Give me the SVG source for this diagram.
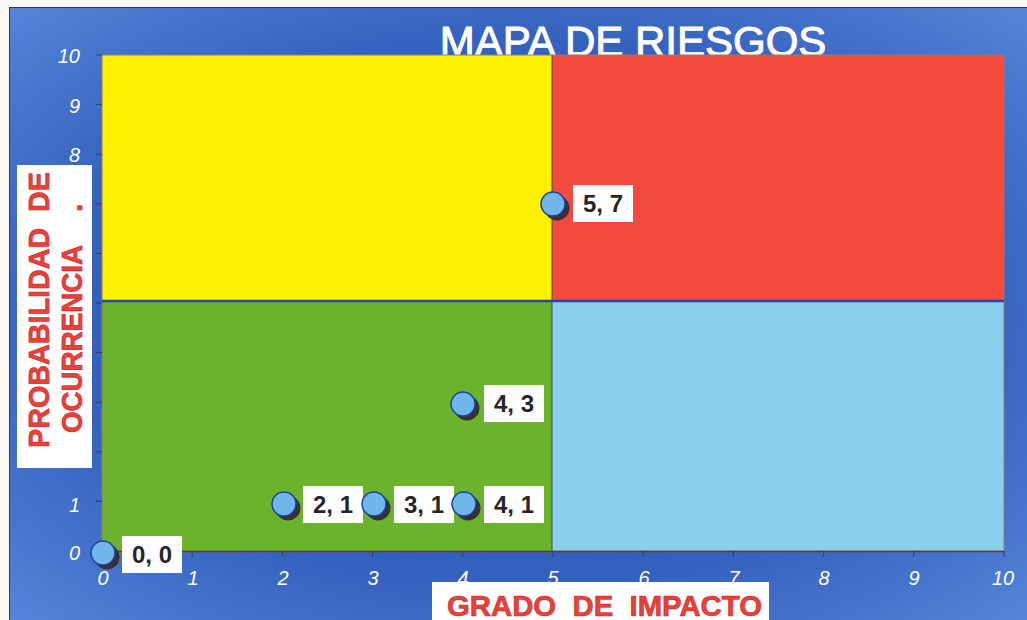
<svg xmlns="http://www.w3.org/2000/svg" width="1027" height="620" viewBox="0 0 1027 620">
  <defs>
    <radialGradient id="bg" cx="0.5" cy="0.5" r="0.75">
      <stop offset="0" stop-color="#2a55ad"/>
      <stop offset="0.6" stop-color="#3562be"/>
      <stop offset="1" stop-color="#5a8ade"/>
    </radialGradient>
    <style>
      .tick { font-family: "Liberation Sans", Arial, sans-serif; font-style: italic; font-size: 20px; fill: #ffffff; }
      .ylab { text-anchor: end; }
      .xlab { text-anchor: middle; }
      .axtitle { font-family: "Liberation Sans", Arial, sans-serif; font-weight: bold; font-size: 30px; fill: #ec4038; stroke: #c0282a; stroke-width: 0.6; white-space: pre; }
      .box { fill: #ffffff; }
      .pt-shadow { fill: #3a3030; }
      .pt { fill: #6fb7e8; stroke: #1d3fa6; stroke-width: 1.5; }
      .pt-label { font-family: "Liberation Sans", Arial, sans-serif; font-weight: bold; font-size: 24px; fill: #262626; text-anchor: middle; }
      .tickmark { stroke: #3a3a5a; stroke-width: 1; }
    </style>
  </defs>

  <!-- page -->
  <rect x="0" y="0" width="1027" height="620" fill="#fbfaf6"/>
  <rect x="9" y="7" width="1018" height="613" fill="url(#bg)"/>
  <line x1="9" y1="7.5" x2="1027" y2="7.5" stroke="#2a3a6a" stroke-width="1"/>
  <line x1="9.5" y1="7" x2="9.5" y2="620" stroke="#2a3a6a" stroke-width="1"/>

  <!-- title -->
  <g id="title">
    <text x="633" y="56" font-family="'Liberation Sans', Arial, sans-serif" font-size="42" fill="#ffffff" stroke="#ffffff" stroke-width="1" text-anchor="middle">MAPA DE RIESGOS</text>
  </g>

  <!-- plot quadrants -->
  <g id="plot">
    <rect x="102" y="55" width="450" height="246" fill="#fff200"/>
    <rect x="552" y="55" width="452" height="246" fill="#f54a3e"/>
    <rect x="102" y="301" width="450" height="250" fill="#69b42b"/>
    <rect x="552" y="301" width="452" height="250" fill="#88d0ec"/>
    <rect x="102" y="55" width="902" height="496" fill="none" stroke="#8a7f70" stroke-width="1"/>
    <line x1="102" y1="301" x2="1004" y2="301" stroke="#1f4aa8" stroke-width="2.5"/>
    <line x1="552" y1="55" x2="552" y2="551" stroke="#3a4a7a" stroke-width="1"/>
    <line x1="102" y1="551.5" x2="1004" y2="551.5" stroke="#6a3a2a" stroke-width="1.5"/>
  </g>

  <!-- axis ticks -->
  <g id="ticks">
    <line class="tickmark" x1="96" y1="55" x2="102" y2="55"/>
    <line class="tickmark" x1="96" y1="104.6" x2="102" y2="104.6"/>
    <line class="tickmark" x1="96" y1="154.2" x2="102" y2="154.2"/>
    <line class="tickmark" x1="96" y1="203.8" x2="102" y2="203.8"/>
    <line class="tickmark" x1="96" y1="253.4" x2="102" y2="253.4"/>
    <line class="tickmark" x1="96" y1="303" x2="102" y2="303"/>
    <line class="tickmark" x1="96" y1="352.6" x2="102" y2="352.6"/>
    <line class="tickmark" x1="96" y1="402.2" x2="102" y2="402.2"/>
    <line class="tickmark" x1="96" y1="451.8" x2="102" y2="451.8"/>
    <line class="tickmark" x1="96" y1="501.4" x2="102" y2="501.4"/>
    <line class="tickmark" x1="96" y1="551" x2="102" y2="551"/>
    <line class="tickmark" x1="102" y1="551" x2="102" y2="557"/>
    <line class="tickmark" x1="192.2" y1="551" x2="192.2" y2="557"/>
    <line class="tickmark" x1="282.4" y1="551" x2="282.4" y2="557"/>
    <line class="tickmark" x1="372.6" y1="551" x2="372.6" y2="557"/>
    <line class="tickmark" x1="462.8" y1="551" x2="462.8" y2="557"/>
    <line class="tickmark" x1="553" y1="551" x2="553" y2="557"/>
    <line class="tickmark" x1="643.2" y1="551" x2="643.2" y2="557"/>
    <line class="tickmark" x1="733.4" y1="551" x2="733.4" y2="557"/>
    <line class="tickmark" x1="823.6" y1="551" x2="823.6" y2="557"/>
    <line class="tickmark" x1="913.8" y1="551" x2="913.8" y2="557"/>
    <line class="tickmark" x1="1004" y1="551" x2="1004" y2="557"/>
  </g>

  <!-- tick labels -->
  <g id="y-tick-labels" class="tick ylab">
    <text x="80" y="63">10</text>
    <text x="80" y="113">9</text>
    <text x="80" y="162">8</text>
    <text x="80" y="512">1</text>
    <text x="80" y="560">0</text>
  </g>
  <g id="x-tick-labels" class="tick xlab">
    <text x="103" y="585">0</text>
    <text x="193" y="585">1</text>
    <text x="283" y="585">2</text>
    <text x="373" y="585">3</text>
    <text x="463" y="585">4</text>
    <text x="553" y="585">5</text>
    <text x="644" y="585">6</text>
    <text x="734" y="585">7</text>
    <text x="824" y="585">8</text>
    <text x="914" y="585">9</text>
    <text x="1003" y="585">10</text>
  </g>

  <!-- axis titles -->
  <g id="y-axis-title">
    <rect class="box" x="17" y="165" width="75" height="303"/>
    <text class="axtitle" transform="translate(49,448) rotate(-90)" textLength="276" lengthAdjust="spacingAndGlyphs">PROBABILIDAD  DE</text>
    <text class="axtitle" transform="translate(82,433) rotate(-90)" textLength="188" lengthAdjust="spacingAndGlyphs">OCURRENCIA</text>
    <text class="axtitle" transform="translate(82,212) rotate(-90)">.</text>
  </g>
  <g id="x-axis-title">
    <rect class="box" x="432" y="582" width="337" height="38"/>
    <text class="axtitle" x="447" y="616" font-size="29" style="font-size:29px" textLength="315" lengthAdjust="spacingAndGlyphs">GRADO  DE  IMPACTO</text>
  </g>

  <!-- data points -->
  <g id="pt-5-7">
    <circle class="pt-shadow" cx="557" cy="208" r="12.5"/>
    <circle class="pt" cx="553" cy="204" r="12"/>
    <rect class="box" x="573" y="185" width="60" height="37"/>
    <text class="pt-label" x="603" y="212">5, 7</text>
  </g>
  <g id="pt-4-3">
    <circle class="pt-shadow" cx="467" cy="408" r="12.5"/>
    <circle class="pt" cx="463" cy="404" r="12"/>
    <rect class="box" x="484" y="385" width="60" height="37"/>
    <text class="pt-label" x="514" y="412">4, 3</text>
  </g>
  <g id="pt-2-1">
    <circle class="pt-shadow" cx="288" cy="508" r="12.5"/>
    <circle class="pt" cx="284" cy="504" r="12"/>
    <rect class="box" x="303" y="486" width="60" height="37"/>
    <text class="pt-label" x="333" y="513">2, 1</text>
  </g>
  <g id="pt-3-1">
    <circle class="pt-shadow" cx="378" cy="508" r="12.5"/>
    <circle class="pt" cx="374" cy="504" r="12"/>
    <rect class="box" x="394" y="486" width="60" height="37"/>
    <text class="pt-label" x="424" y="513">3, 1</text>
  </g>
  <g id="pt-4-1">
    <circle class="pt-shadow" cx="468" cy="508" r="12.5"/>
    <circle class="pt" cx="464" cy="504" r="12"/>
    <rect class="box" x="484" y="486" width="60" height="37"/>
    <text class="pt-label" x="514" y="513">4, 1</text>
  </g>
  <g id="pt-0-0">
    <circle class="pt-shadow" cx="107" cy="557" r="12.5"/>
    <circle class="pt" cx="103" cy="553" r="12"/>
    <rect class="box" x="122" y="536" width="60" height="37"/>
    <text class="pt-label" x="152" y="563">0, 0</text>
  </g>
</svg>
